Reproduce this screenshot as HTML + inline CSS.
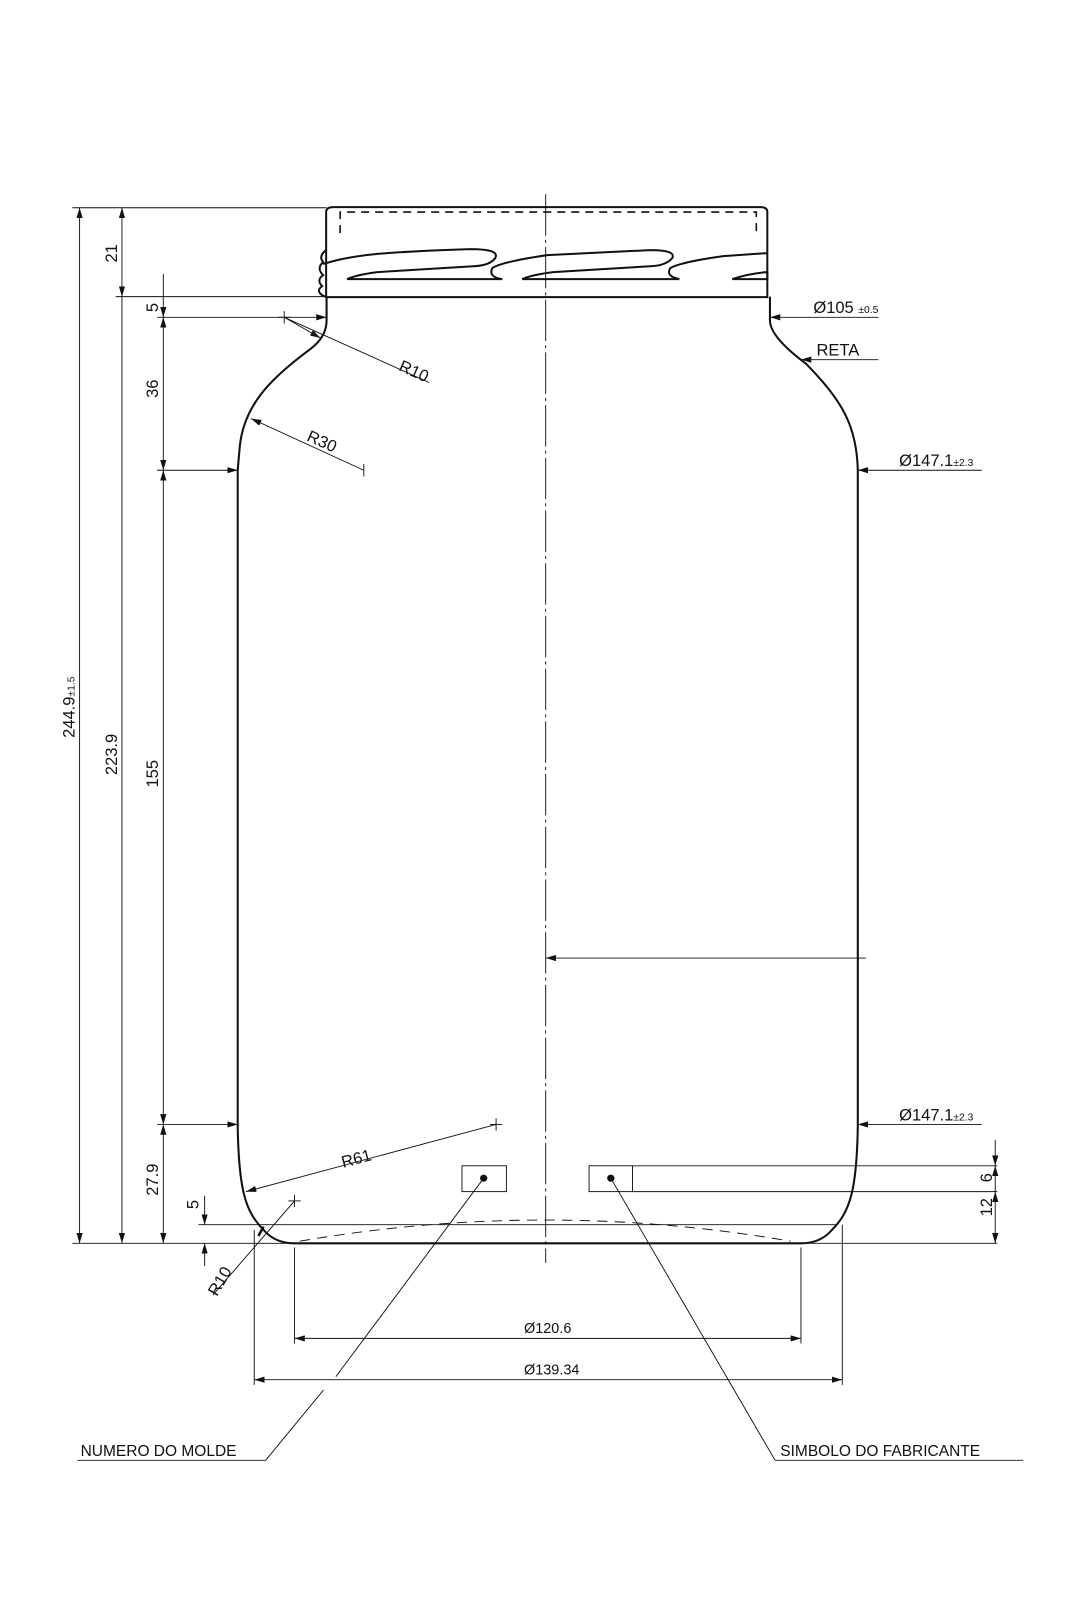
<!DOCTYPE html>
<html><head><meta charset="utf-8"><style>
html,body{margin:0;padding:0;background:#fff;}
svg{display:block;}
text{font-family:"Liberation Sans",sans-serif;fill:#111;}
</style></head><body>
<svg width="1080" height="1620" viewBox="0 0 1045 1567.5" xmlns="http://www.w3.org/2000/svg">
<defs>
<marker id="a" viewBox="0 0 10 6" refX="10" refY="3" markerWidth="10" markerHeight="6" orient="auto-start-reverse" markerUnits="userSpaceOnUse"><path d="M0,0 L10,3 L0,6 z" fill="#111"/></marker>
</defs>
<g fill="none" stroke="#111" stroke-width="0.9">
<line x1="528" y1="188" x2="528" y2="1222" stroke-dasharray="40,4,3,4"/>
<line x1="77" y1="201" x2="77" y2="1203" marker-start="url(#a)" marker-end="url(#a)"/>
<line x1="118" y1="201" x2="118" y2="287" marker-start="url(#a)" marker-end="url(#a)"/>
<line x1="118" y1="287" x2="118" y2="1203" marker-end="url(#a)"/>
<line x1="158" y1="265" x2="158" y2="287"/>
<line x1="158" y1="287" x2="158" y2="307" marker-end="url(#a)"/>
<line x1="158" y1="307" x2="158" y2="455" marker-start="url(#a)" marker-end="url(#a)"/>
<line x1="158" y1="455" x2="158" y2="1088" marker-start="url(#a)" marker-end="url(#a)"/>
<line x1="158" y1="1088" x2="158" y2="1203" marker-start="url(#a)" marker-end="url(#a)"/>
<line x1="70" y1="201" x2="316" y2="201"/>
<line x1="112" y1="287" x2="316" y2="287"/>
<line x1="152" y1="307" x2="316" y2="307" marker-end="url(#a)"/>
<line x1="152" y1="455" x2="230" y2="455" marker-end="url(#a)"/>
<line x1="152" y1="1088" x2="230" y2="1088" marker-end="url(#a)"/>
<line x1="70" y1="1203" x2="965" y2="1203"/>
<line x1="198" y1="1157" x2="198" y2="1185" marker-end="url(#a)"/>
<line x1="198" y1="1225" x2="198" y2="1203" marker-end="url(#a)"/>
<line x1="192" y1="1185" x2="810" y2="1185"/>
<line x1="275" y1="307" x2="415" y2="370" />
<line x1="275" y1="301" x2="275" y2="313"/><line x1="269" y1="307" x2="281" y2="307"/>
<line x1="310" y1="327" x2="275" y2="307" marker-start="url(#a)"/>
<line x1="352" y1="455" x2="243" y2="405" marker-end="url(#a)"/>
<line x1="352" y1="449" x2="352" y2="461"/>
<line x1="480" y1="1088" x2="238" y2="1153" marker-end="url(#a)"/>
<line x1="480" y1="1082" x2="480" y2="1094"/>
<line x1="474" y1="1088" x2="486" y2="1088"/>
<line x1="285" y1="1156" x2="285" y2="1168"/><line x1="279" y1="1162" x2="291" y2="1162"/>
<line x1="285" y1="1162" x2="206" y2="1253"/>
<path d="M255,1187 L250,1196" stroke-width="2.5"/>
<path stroke-width="2" d="M316,287 L316,310 Q316,326 300,338 C262,366 236,392 232,432 L230,455 L230,1090 C231,1150 237,1172 255,1190 Q266,1203 285,1203 L775,1203 Q794,1203 805,1190 C823,1172 829,1150 830,1090 L830,455 C829,412 815,388 780,352 Q745,326 745,310 L745,287"/>
<g transform="scale(0.968)">
<path stroke-width="2" d="M326,297 L326,212 Q326,207 333,207 L760,207 Q767,207 767,212 L767,297 Z"/>
<path stroke-width="1.6" stroke-dasharray="8,6" d="M340,233 L340,212 L756,212 L756,233"/>
<path stroke-width="2" d="M326,250 Q318,256 323,262 Q316,268 323,275 Q316,280 322,286 Q314,292 326,297"/>
<path stroke-width="2" d="M323,264 C350,255 380,252 470,249 Q500,249 495,258 Q490,265 475,266 L377,272 Q355,275 347,279 L502,279"/>
<path stroke-width="2" d="M502,279 Q488,277 492,268 Q500,262 547,255 L650,250 Q676,250 672,258 Q666,265 652,266 L553,272 Q530,275 522,279 L679,279"/>
<path stroke-width="2" d="M679,279 Q665,276 670,268 Q680,262 723,256 L767,253"/>
<path stroke-width="2" d="M732,279 Q750,273 767,272 L767,279 Z"/>
</g>
<line x1="850" y1="307" x2="745" y2="307" marker-end="url(#a)"/>
<line x1="850" y1="348" x2="775" y2="348" marker-end="url(#a)"/>
<line x1="950" y1="455" x2="830" y2="455" marker-end="url(#a)"/>
<line x1="950" y1="1088" x2="830" y2="1088" marker-end="url(#a)"/>
<line x1="838" y1="927" x2="528" y2="927" marker-end="url(#a)"/>
<rect x="447" y="1128" width="43" height="25"/>
<rect x="570" y="1128" width="42" height="25"/>
<line x1="612" y1="1128" x2="965" y2="1128"/>
<line x1="612" y1="1153" x2="965" y2="1153"/>
<line x1="963" y1="1103" x2="963" y2="1128" marker-end="url(#a)"/>
<line x1="963" y1="1153" x2="963" y2="1128" marker-end="url(#a)"/>
<line x1="963" y1="1153" x2="963" y2="1203" marker-start="url(#a)" marker-end="url(#a)"/>
<path stroke-dasharray="10,7" d="M290,1201 Q528,1160 765,1201"/>
<line x1="285" y1="1207" x2="285" y2="1300"/>
<line x1="775" y1="1207" x2="775" y2="1300"/>
<line x1="285" y1="1295" x2="775" y2="1295" marker-start="url(#a)" marker-end="url(#a)"/>
<line x1="246" y1="1190" x2="246" y2="1340"/>
<line x1="815" y1="1185" x2="815" y2="1340"/>
<line x1="246" y1="1335" x2="815" y2="1335" marker-start="url(#a)" marker-end="url(#a)"/>
<line x1="468" y1="1140" x2="325" y2="1332"/>
<line x1="313" y1="1345" x2="257" y2="1413"/>
<line x1="75" y1="1413" x2="257" y2="1413"/>
<line x1="591" y1="1140" x2="750" y2="1413"/>
<line x1="750" y1="1413" x2="990" y2="1413"/>
</g>
<circle cx="468" cy="1140" r="3.5" fill="#111"/>
<circle cx="591" cy="1140" r="3.5" fill="#111"/>
<g font-size="16">
<text transform="translate(72,714) rotate(-90)">244.9<tspan font-size="10">±1.5</tspan></text>
<text transform="translate(113,750) rotate(-90)">223.9</text>
<text transform="translate(113,254) rotate(-90)">21</text>
<text transform="translate(153,302) rotate(-90)">5</text>
<text transform="translate(153,385) rotate(-90)">36</text>
<text transform="translate(153,762) rotate(-90)">155</text>
<text transform="translate(153,1157) rotate(-90)">27.9</text>
<text transform="translate(192,1170) rotate(-90)">5</text>
<text transform="translate(210,1255) rotate(-60)">R10</text>
<text transform="translate(385,358) rotate(24)">R10</text>
<text transform="translate(296,426) rotate(24)">R30</text>
<text transform="translate(332,1130) rotate(-15)">R61</text>
<text x="787" y="303">Ø105 <tspan font-size="10">±0.5</tspan></text>
<text x="790" y="344">RETA</text>
<text x="870" y="451">Ø147.1<tspan font-size="10">±2.3</tspan></text>
<text x="870" y="1084">Ø147.1<tspan font-size="10">±2.3</tspan></text>
<text transform="translate(960,1144) rotate(-90)">6</text>
<text transform="translate(960,1177) rotate(-90)">12</text>
<text x="507" y="1290" font-size="14">Ø120.6</text>
<text x="507" y="1330" font-size="14">Ø139.34</text>
<text x="78" y="1409" font-size="15">NUMERO DO MOLDE</text>
<text x="755" y="1409" font-size="15">SIMBOLO DO FABRICANTE</text>
</g>
</svg>
</body></html>
